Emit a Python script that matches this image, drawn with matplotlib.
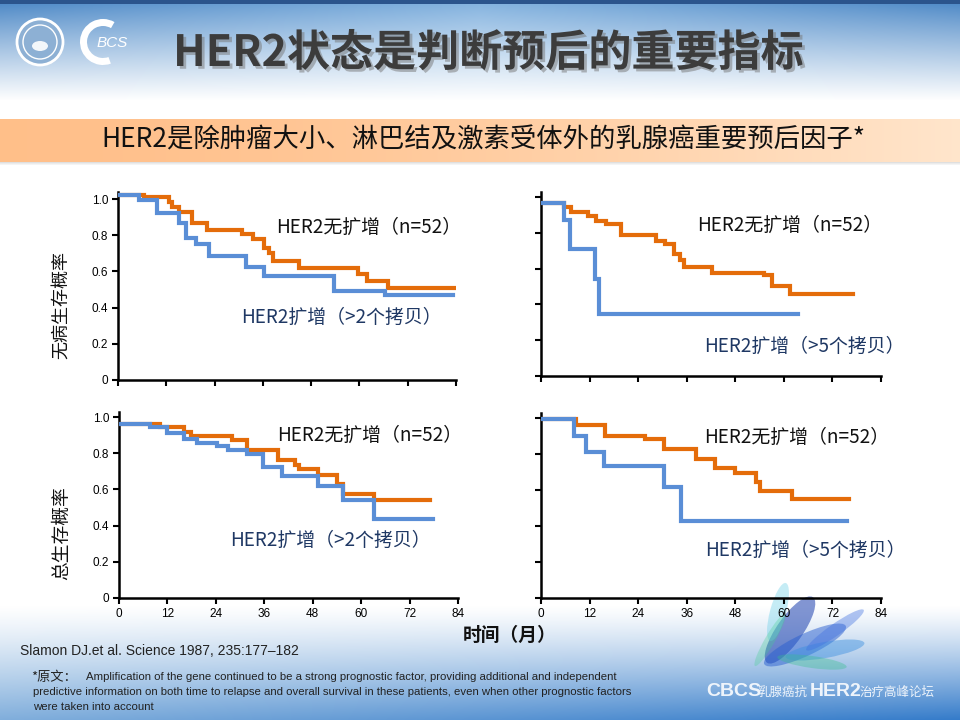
import numpy as np
import matplotlib
matplotlib.use("Agg")
import matplotlib.pyplot as plt
from matplotlib.patches import Circle, Wedge, Ellipse
import matplotlib.patheffects as pe

CJK = ['Noto Sans CJK SC', 'DejaVu Sans']
LAT = ['Liberation Sans', 'DejaVu Sans']

# ---------------- data (months, survival probability) ----------------
month_ticks = [0, 12, 24, 36, 48, 60, 72, 84]
prob_ticks = [0, 0.2, 0.4, 0.6, 0.8, 1.0]
prob_labels = ['0', '0.2', '0.4', '0.6', '0.8', '1.0']

# disease-free survival, >2 copies
dfs2_neg_t = [0, 6.4, 12.6, 13.5, 15.1, 18.4, 22.2, 30.8, 33.6, 36.2, 37.5, 38.4, 45.1, 59.6, 61.8, 67.2, 83.8]
dfs2_neg_s = [1.02, 1.009, 0.985, 0.957, 0.926, 0.865, 0.828, 0.806, 0.781, 0.731, 0.70, 0.657, 0.62, 0.583, 0.546, 0.506, 0.506]
dfs2_pos_t = [0, 5.2, 9.8, 15.1, 16.8, 19.3, 22.6, 31.9, 36.2, 53.8, 66.4, 83.2]
dfs2_pos_s = [1.02, 0.996, 0.92, 0.87, 0.783, 0.754, 0.685, 0.624, 0.574, 0.491, 0.472, 0.472]

# disease-free survival, >5 copies
dfs5_neg_t = [0, 5.8, 7.4, 11.5, 13.7, 16.1, 19.8, 28.3, 30.7, 32.8, 34.3, 35.3, 42.3, 55.0, 57.1, 61.6, 77.0]
dfs5_neg_s = [0.968, 0.946, 0.918, 0.893, 0.865, 0.85, 0.787, 0.753, 0.735, 0.684, 0.65, 0.609, 0.576, 0.563, 0.501, 0.46, 0.46]
dfs5_pos_t = [0, 5.8, 7.2, 13.4, 14.4, 63.5]
dfs5_pos_s = [0.968, 0.869, 0.707, 0.544, 0.348, 0.348]

# overall survival, >2 copies
os2_neg_t = [0, 10.2, 16.0, 17.8, 27.9, 31.7, 39.5, 43.7, 44.5, 49.4, 54.0, 55.6, 63.1, 77.1]
os2_neg_s = [0.963, 0.945, 0.919, 0.897, 0.871, 0.816, 0.764, 0.733, 0.713, 0.681, 0.632, 0.575, 0.54, 0.54]
os2_pos_t = [0, 7.7, 11.8, 16.0, 19.3, 24.2, 27.1, 31.7, 35.8, 40.3, 49.4, 55.6, 63.1, 77.7]
os2_pos_s = [0.963, 0.943, 0.912, 0.88, 0.856, 0.838, 0.816, 0.797, 0.722, 0.672, 0.617, 0.54, 0.436, 0.436]

# overall survival, >5 copies
os5_neg_t = [0, 8.7, 15.7, 25.8, 30.5, 38.4, 42.9, 48.0, 53.2, 54.2, 62.0, 76.2]
os5_neg_s = [0.995, 0.962, 0.902, 0.884, 0.828, 0.772, 0.722, 0.694, 0.642, 0.597, 0.549, 0.549]
os5_pos_t = [0, 8.2, 11.0, 15.5, 30.3, 34.7, 75.6]
os5_pos_s = [0.995, 0.899, 0.811, 0.731, 0.616, 0.43, 0.43]

label_neg = 'HER2无扩增（n=52）'
label_pos2 = 'HER2扩增（>2个拷贝）'
label_pos5 = 'HER2扩增（>5个拷贝）'

title = 'HER2状态是判断预后的重要指标'
subtitle = 'HER2是除肿瘤大小、淋巴结及激素受体外的乳腺癌重要预后因子*'
ylabel_dfs = '无病生存概率'
ylabel_os = '总生存概率'
xlabel = '时间（月）'
citation = 'Slamon DJ.et al. Science 1987, 235:177–182'
note_lines = ['Amplification of the gene continued to be a strong prognostic factor, providing additional and independent',
              'predictive information on both time to relapse and overall survival in these patients, even when other prognostic factors',
              'were taken into account']

ORANGE = '#E46C0A'
BLUE = '#5A8ED6'
NAVY = '#1F3864'

W, H = 960, 720
fig = plt.figure(figsize=(9.6, 7.2), dpi=100)

# ---------------- background ----------------
yy = np.arange(H)[:, None].astype(float)
xx = np.arange(W)[None, :].astype(float)
edge = np.abs(xx - 480) / 480.0
c_center = np.array([0.50, 0.69, 0.87])
c_edge = np.array([0.28, 0.52, 0.77])
ctop = c_center[None, None, :] * (1 - edge[..., None]) + c_edge[None, None, :] * edge[..., None]
t = np.clip(yy / 100.0, 0, 1) ** 0.9
img = ctop * (1 - t[..., None]) + 1.0 * t[..., None]
img = img * np.ones((H, W, 1))
img[:4, :, :] = np.array([0.17, 0.33, 0.55])
# orange band
band = (yy[:, 0] >= 119) & (yy[:, 0] <= 161)
fx = (xx[0] / W)
oc = np.array([1.0, 0.75, 0.54])[None, :] * (1 - fx[:, None] ** 1.5) + np.array([1.0, 0.90, 0.80])[None, :] * (fx[:, None] ** 1.5)
img[band] = oc[None, :, :]
for k, a in enumerate([0.25, 0.15, 0.08]):
    img[162 + k] = img[162 + k] * (1 - a) + 0.5 * a
# bottom gradient
bt = np.clip((yy - 605) / 115.0, 0, 1)
cb_left = np.array([0.50, 0.68, 0.86])
cb_right = np.array([0.20, 0.48, 0.79])
cb = cb_left[None, None, :] * (1 - fx[None, :, None]) + cb_right[None, None, :] * fx[None, :, None]
w = (bt ** 1.2)[..., None] * np.ones((1, W, 1))
img = img * (1 - w) + cb * w
img = np.clip(img, 0, 1)

bg = fig.add_axes([0, 0, 1, 1])
bg.imshow(img, extent=[0, W, H, 0], aspect='auto', zorder=0)
bg.set_xlim(0, W)
bg.set_ylim(H, 0)
bg.axis('off')

# logos
bg.add_patch(Circle((40, 42), 23, facecolor='#8db0d4', edgecolor='white', lw=2, zorder=2))
bg.add_patch(Circle((40, 42), 17, facecolor='none', edgecolor='white', lw=1, zorder=2))
bg.add_patch(Ellipse((40, 46), 16, 10, facecolor='white', edgecolor='none', zorder=2, alpha=0.9))
bg.add_patch(Wedge((103, 42), 23, 70, 300, width=7, facecolor='white', edgecolor='none', zorder=2))
bg.text(112, 43, 'BCS', color='white', fontsize=11, style='italic', family=LAT, ha='center', va='center', zorder=3)

# decorative flower (approximate)
for (cx, cy, ww, hh, ang, col, al) in [(790, 630, 80, 26, 55, '#1b3fae', 0.55), (805, 645, 90, 22, 25, '#2a5fd0', 0.5),
                                         (825, 650, 80, 16, 10, '#3b8fe0', 0.45), (778, 612, 60, 16, 75, '#6fd0e8', 0.4),
                                         (812, 662, 70, 12, -8, '#34c08a', 0.35), (835, 630, 70, 12, 35, '#4070e0', 0.4),
                                         (770, 640, 60, 10, 60, '#45d090', 0.3)]:
    bg.add_patch(Ellipse((cx, cy), ww, hh, angle=-ang, facecolor=col, alpha=al, edgecolor='none', zorder=1))

# titles
bg.text(488, 53, title, family=CJK, fontsize=31, fontweight='bold', color='#3c3c3c', ha='center', va='center', zorder=3,
        path_effects=[pe.withSimplePatchShadow(offset=(2, -2), shadow_rgbFace='#777777', alpha=0.5)])
bg.text(483, 140, subtitle, family=CJK, fontsize=19, color='#111111', ha='center', va='center', zorder=3)

# footer
bg.text(20, 651, citation, family=LAT, fontsize=10, color='#222222', ha='left', va='center', zorder=3)
bg.text(31, 677, '*原文：', family=CJK, fontsize=9.5, color='#222222', ha='left', va='center', zorder=3)
bg.text(86, 677, note_lines[0], family=LAT, fontsize=8.2, color='#222222', ha='left', va='center', zorder=3)
bg.text(33, 692, note_lines[1], family=LAT, fontsize=8.2, color='#222222', ha='left', va='center', zorder=3)
bg.text(33, 707, note_lines[2], family=LAT, fontsize=8.2, color='#222222', ha='left', va='center', zorder=3)

fw = dict(color='#eef4fb', zorder=3, va='center', ha='left')
bg.text(706, 691, 'CBCS', family=LAT, fontsize=14, fontweight='bold', **fw)
bg.text(757, 692, '乳腺癌抗', family=CJK, fontsize=9, **fw)
bg.text(810, 691, 'HER2', family=LAT, fontsize=14, fontweight='bold', **fw)
bg.text(859, 692, '治疗高峰论坛', family=CJK, fontsize=9, **fw)

# axis labels
bg.text(62, 305, ylabel_dfs, family=CJK, fontsize=13, rotation=90, ha='center', va='center', color='#111111', zorder=3)
bg.text(62, 533, ylabel_os, family=CJK, fontsize=13.5, rotation=90, ha='center', va='center', color='#111111', zorder=3)
bg.text(510, 635, xlabel, family=CJK, fontsize=13.5, fontweight='bold', ha='center', va='center', color='#111111', zorder=3)


def make_ax(left, right, y0, y1, ytop):
    per = (y0 - y1)
    top_px = y0 - ytop * per
    ax = fig.add_axes([left / W, 1 - y0 / H, (right - left) / W, (y0 - top_px) / H])
    ax.set_xlim(0, 84)
    ax.set_ylim(0, ytop)
    ax.set_facecolor('none')
    for s in ['top', 'right']:
        ax.spines[s].set_visible(False)
    for s in ['left', 'bottom']:
        ax.spines[s].set_linewidth(1.8)
        ax.spines[s].set_color('black')
    ax.set_xticks(month_ticks)
    ax.set_yticks(prob_ticks)
    ax.tick_params(direction='out', length=4, width=1.5, colors='black', pad=3)
    return ax


panels = [
    (make_ax(118, 456, 380, 199, 1.04), dfs2_neg_t, dfs2_neg_s, dfs2_pos_t, dfs2_pos_s, True, False,
     (276, 227), (241, 317), label_pos2),
    (make_ax(541, 881, 376, 197, 1.03), dfs5_neg_t, dfs5_neg_s, dfs5_pos_t, dfs5_pos_s, False, False,
     (697, 225), (704, 346), label_pos5),
    (make_ax(119, 458, 598, 417, 1.025), os2_neg_t, os2_neg_s, os2_pos_t, os2_pos_s, True, True,
     (277, 435), (230, 540), label_pos2),
    (make_ax(541, 881, 598, 418, 1.03), os5_neg_t, os5_neg_s, os5_pos_t, os5_pos_s, False, True,
     (704, 437), (705, 550), label_pos5),
]

for ax, nt, ns, ptt, ps, ylab, xlab, neg_xy, pos_xy, pos_label in panels:
    ax.step(nt, ns, where='post', color=ORANGE, lw=3, zorder=3, solid_joinstyle='miter')
    ax.step(ptt, ps, where='post', color=BLUE, lw=3, zorder=4, solid_joinstyle='miter')
    if ylab:
        ax.set_yticklabels(prob_labels, family=LAT, fontsize=8.5)
    else:
        ax.set_yticklabels([])
    if xlab:
        ax.set_xticklabels([str(m) for m in month_ticks], family=LAT, fontsize=8.5)
    else:
        ax.set_xticklabels([])
    bg.text(neg_xy[0], neg_xy[1], label_neg, family=CJK, fontsize=13.6, color='#111111', ha='left', va='center', zorder=5)
    bg.text(pos_xy[0], pos_xy[1], pos_label, family=CJK, fontsize=13.6, color=NAVY, ha='left', va='center', zorder=5)

fig.savefig('out.png', dpi=100)
